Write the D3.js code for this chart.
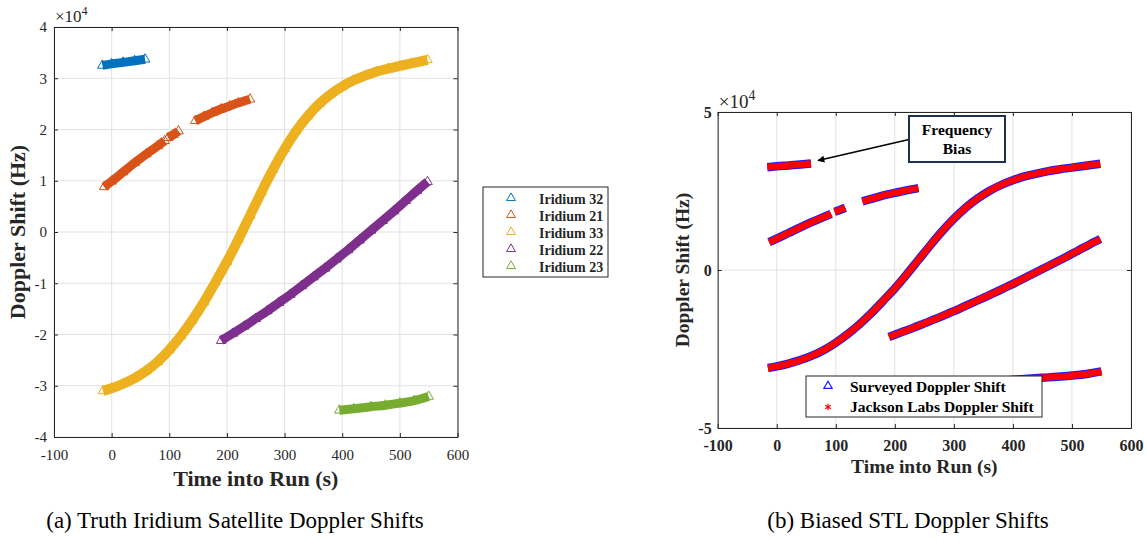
<!DOCTYPE html>
<html>
<head>
<meta charset="utf-8">
<script src="https://cdn.jsdelivr.net/npm/d3@7"></script>
<style>
  body { margin: 0; background: #fff; }
  svg text { font-family: "Liberation Serif", "Times New Roman", Times, "DejaVu Serif", serif; fill: #262626; }
</style>
</head>
<body>
<svg id="fig" width="1147" height="541"></svg>
<script>
// values in units of 1e4 Hz, time in seconds; null = gap in the track
var iridium32 = [[-16,3.25],[0,3.28],[20,3.31],[40,3.34],[58,3.37]];
var iridium21 = [[-13,0.88],[0,0.99],[20,1.17],[40,1.35],[60,1.52],[80,1.68],[92,1.78],null,
                 [98,1.84],[107,1.90],[116,1.97],null,
                 [145,2.17],[160,2.25],[175,2.33],[190,2.40],[205,2.46],[220,2.52],[240,2.59]];
var iridium33 = [[-15,-3.10],[0,-3.05],[20,-2.96],[40,-2.85],[60,-2.71],[80,-2.53],[100,-2.30],
                 [120,-2.03],[140,-1.72],[160,-1.37],[180,-0.98],[200,-0.58],[220,-0.14],[240,0.32],
                 [260,0.78],[280,1.22],[300,1.62],[320,1.97],[340,2.26],[360,2.50],[380,2.69],
                 [400,2.84],[420,2.96],[440,3.05],[460,3.13],[480,3.19],[500,3.24],[520,3.29],[548,3.36]];
var iridium22 = [[190,-2.12],[210,-1.98],[230,-1.84],[250,-1.69],[270,-1.54],[290,-1.38],[310,-1.22],
                 [330,-1.05],[350,-0.88],[370,-0.71],[390,-0.53],[410,-0.35],[430,-0.16],[450,0.03],
                 [470,0.22],[490,0.41],[510,0.61],[530,0.81],[548,0.98]];
var iridium23 = [[395,-3.48],[420,-3.45],[450,-3.41],[475,-3.38],[500,-3.34],[525,-3.29],[550,-3.21]];

var seriesNames = ["Iridium 32", "Iridium 21", "Iridium 33", "Iridium 22", "Iridium 23"];
var seriesData = [iridium32, iridium21, iridium33, iridium22, iridium23];
var seriesColors = ["#0072BD", "#D95319", "#EDB120", "#7E2F8E", "#77AC30"];

var xTicks = [-100, 0, 100, 200, 300, 400, 500, 600];
var yTicksA = [-4, -3, -2, -1, 0, 1, 2, 3, 4];
var yTicksB = [-5, 0, 5];
var legendB = ["Surveyed Doppler Shift", "Jackson Labs Doppler Shift"];

var serif = '"Liberation Serif", "Times New Roman", Times, "DejaVu Serif", serif';
var svg = d3.select("#fig");

function panel(c) {
  var g = svg.append("g");
  var x = d3.scaleLinear().domain([-100, 600]).range([c.x0, c.x1]);
  var y = d3.scaleLinear().domain(c.yDomain).range([c.y1, c.y0]);

  // grid
  g.selectAll(".gx").data(xTicks).enter().append("line")
    .attr("x1", function (d) { return x(d) }).attr("x2", function (d) { return x(d) })
    .attr("y1", c.y0).attr("y2", c.y1)
    .style("stroke", "#e2e2e2").style("stroke-width", 1);
  g.selectAll(".gy").data(c.yTicks).enter().append("line")
    .attr("y1", function (d) { return y(d) }).attr("y2", function (d) { return y(d) })
    .attr("x1", c.x0).attr("x2", c.x1)
    .style("stroke", "#e2e2e2").style("stroke-width", 1);

  var bottom = g.append("g").attr("transform", "translate(0," + c.y1 + ")")
    .call(d3.axisBottom(x).tickValues(xTicks).tickSizeInner(-4).tickSizeOuter(0).tickPadding(c.xPad));
  var left = g.append("g").attr("transform", "translate(" + c.x0 + ",0)")
    .call(d3.axisLeft(y).tickValues(c.yTicks).tickSizeInner(-4).tickSizeOuter(0).tickPadding(c.yPad));
  var top = g.append("g").attr("transform", "translate(0," + c.y0 + ")")
    .call(d3.axisTop(x).tickValues(xTicks).tickSizeInner(-4).tickSizeOuter(0).tickFormat(""));
  var right = g.append("g").attr("transform", "translate(" + c.x1 + ",0)")
    .call(d3.axisRight(y).tickValues(c.yTicks).tickSizeInner(-4).tickSizeOuter(0).tickFormat(""));

  [bottom, left, top, right].forEach(function (a) {
    a.attr("font-family", null);
    a.select(".domain").style("stroke", "#262626");
    a.selectAll(".tick line").style("stroke", "#262626");
    a.selectAll("text").style("font-family", serif)
      .style("font-size", c.tickSize + "px").style("font-weight", c.tickWeight).style("fill", "#262626");
  });
  left.selectAll("text").text(function (d) { return String(d) });
  bottom.selectAll("text").text(function (d) { return String(d) });

  // x10^4 multiplier
  var m = g.append("text").attr("x", c.x0 + 1).attr("y", c.y0 - c.mulDy)
    .style("font-size", c.mulSize + "px");
  m.append("tspan").text("\u00d710");
  m.append("tspan").attr("dy", -c.mulSize * 0.4).style("font-size", (c.mulSize * 0.72) + "px").text("4");

  g.append("text").attr("x", (c.x0 + c.x1) / 2 + c.xLabDx).attr("y", c.xLabY)
    .attr("text-anchor", "middle").style("font-weight", "bold").style("font-size", c.labSize + "px")
    .text("Time into Run (s)");
  g.append("text").attr("transform", "translate(" + c.yLabX + "," + ((c.y0 + c.y1) / 2) + ") rotate(-90)")
    .attr("text-anchor", "middle").style("font-weight", "bold").style("font-size", c.labSize + "px")
    .text("Doppler Shift (Hz)");

  g.append("text").attr("x", c.capX).attr("y", 528).attr("text-anchor", "middle")
    .style("font-size", "23px").style("fill", "#000").text(c.caption);

  return { g: g, x: x, y: y };
}

var line = function (x, y) {
  return d3.line().defined(function (d) { return d !== null })
    .x(function (d) { return x(d[0]) }).y(function (d) { return y(d[1]) })
    .curve(d3.curveMonotoneX);
};
var tri = d3.symbol().type(d3.symbolTriangle).size(40);

// ---------- panel (a)
var A = panel({
  x0: 54, x1: 457.5, y0: 27, y1: 437, yDomain: [-4, 4], yTicks: yTicksA,
  xPad: 12, yPad: 7, tickSize: 15, tickWeight: "normal",
  mulDy: 5, mulSize: 17, xLabY: 486, xLabDx: 0, yLabX: 25, labSize: 22,
  capX: 235, caption: "(a) Truth Iridium Satellite Doppler Shifts"
});

seriesData.forEach(function (s, i) {
  A.g.append("path").datum(s).attr("d", line(A.x, A.y))
    .style("fill", "none").style("stroke", seriesColors[i]).style("stroke-width", i === 2 ? 10 : 9);
  A.g.selectAll(".m" + i).data(s.filter(function (d) { return d })).enter().append("path")
    .attr("d", tri)
    .attr("transform", function (d) { return "translate(" + A.x(d[0]) + "," + A.y(d[1]) + ")" })
    .style("fill", "none").style("stroke", seriesColors[i]).style("stroke-width", 1);
});

// legend (a)
var la = svg.append("g");
la.append("rect").attr("x", 483).attr("y", 187).attr("width", 125).attr("height", 90)
  .style("fill", "#fff").style("stroke", "#262626").style("stroke-width", 1);
seriesNames.forEach(function (n, i) {
  var yy = 199 + i * 17;
  la.append("path").attr("d", d3.symbol().type(d3.symbolTriangle).size(34))
    .attr("transform", "translate(511," + (yy - 1) + ")")
    .style("fill", "none").style("stroke", seriesColors[i]).style("stroke-width", 1);
  la.append("text").attr("x", 539).attr("y", yy + 4.5).style("font-weight", "bold")
    .style("font-size", "14px").text(n);
});

// ---------- panel (b)
var B = panel({
  x0: 717.7, x1: 1131, y0: 112, y1: 428, yDomain: [-5, 5], yTicks: yTicksB,
  xPad: 12, yPad: 6, tickSize: 16, tickWeight: "bold",
  mulDy: 4, mulSize: 19, xLabY: 473, xLabDx: 0, yLabX: 689, labSize: 19.5,
  capX: 908, caption: "(b) Biased STL Doppler Shifts"
});

seriesData.forEach(function (s) {
  B.g.append("path").datum(s).attr("d", line(B.x, B.y))
    .style("fill", "none").style("stroke", "#1c1cff").style("stroke-width", 8.5);
});
seriesData.forEach(function (s) {
  B.g.append("path").datum(s).attr("d", line(B.x, B.y))
    .style("fill", "none").style("stroke", "#ff0000").style("stroke-width", 6.5);
});

// annotation
svg.append("defs").append("marker").attr("id", "ah").attr("viewBox", "0 0 10 10")
  .attr("refX", 9).attr("refY", 5).attr("markerWidth", 9).attr("markerHeight", 7)
  .attr("markerUnits", "userSpaceOnUse").attr("orient", "auto")
  .append("path").attr("d", "M0,0L10,5L0,10z").style("fill", "#000");
svg.append("line").attr("x1", 909).attr("y1", 139.5).attr("x2", 818).attr("y2", 160.5)
  .style("stroke", "#000").style("stroke-width", 1.6).attr("marker-end", "url(#ah)");
svg.append("rect").attr("x", 909).attr("y", 116).attr("width", 96).attr("height", 46)
  .style("fill", "#fff").style("stroke", "#1f3050").style("stroke-width", 2);
svg.append("text").attr("x", 957).attr("y", 135).attr("text-anchor", "middle")
  .style("font-weight", "bold").style("font-size", "15.5px").style("fill", "#000").text("Frequency");
svg.append("text").attr("x", 957).attr("y", 154).attr("text-anchor", "middle")
  .style("font-weight", "bold").style("font-size", "15.5px").style("fill", "#000").text("Bias");

// legend (b)
var lb = svg.append("g");
lb.append("rect").attr("x", 806).attr("y", 376).attr("width", 236).attr("height", 41)
  .style("fill", "#fff").style("stroke", "#262626").style("stroke-width", 1);
lb.append("path").attr("d", d3.symbol().type(d3.symbolTriangle).size(30))
  .attr("transform", "translate(828,386)")
  .style("fill", "none").style("stroke", "#1c1cff").style("stroke-width", 1.2);
lb.append("path").attr("d", d3.symbol().type(d3.symbolAsterisk).size(30))
  .attr("transform", "translate(828,407)")
  .style("fill", "none").style("stroke", "#ff0000").style("stroke-width", 1.2);
legendB.forEach(function (n, i) {
  lb.append("text").attr("x", 850).attr("y", 391.5 + i * 20).style("font-weight", "bold")
    .style("font-size", "15.5px").style("fill", "#000").text(n);
});
</script>
</body>
</html>
